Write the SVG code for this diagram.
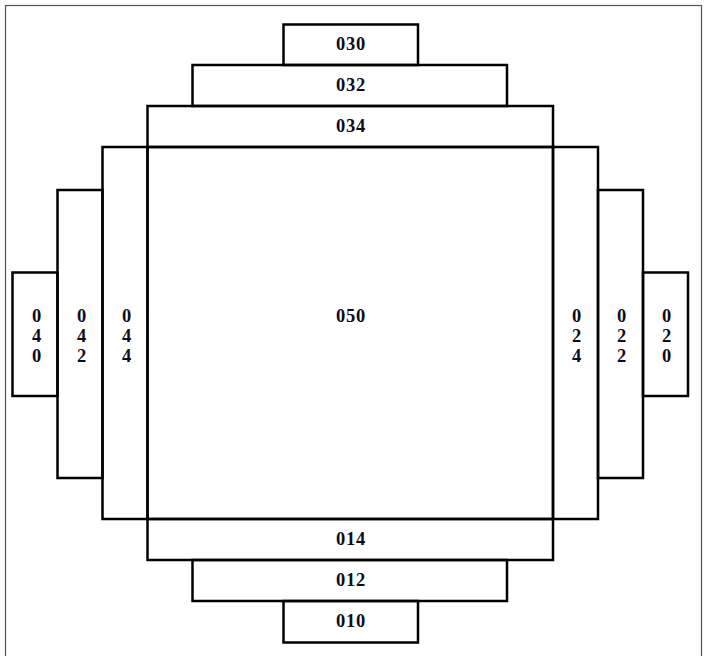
<svg xmlns="http://www.w3.org/2000/svg" width="705" height="656" viewBox="0 0 705 656">
  <style>
    .box { fill: none; stroke: #000; stroke-width: 2.5; }
    .lbl { font-family: "Liberation Serif", "Times New Roman", serif; font-weight: bold; font-size: 18.5px; fill: #0d0d1a; text-anchor: middle; letter-spacing: 0.8px; }
    .frame { fill: #fff; stroke: #555; stroke-width: 1.2; }
  </style>
  <rect class="frame" x="5.5" y="5.5" width="696" height="660"/>

  <!-- top strips -->
  <g id="n030"><rect class="box" x="283.5" y="24.5" width="134.5" height="40.5"/><text class="lbl" x="351" y="50">030</text></g>
  <g id="n032"><rect class="box" x="192.5" y="65" width="314.5" height="41"/><text class="lbl" x="351" y="91">032</text></g>
  <g id="n034"><rect class="box" x="147.5" y="106" width="405.5" height="41"/><text class="lbl" x="351" y="132">034</text></g>

  <!-- centre -->
  <g id="n050"><rect class="box" x="147.5" y="147" width="405.5" height="372"/><text class="lbl" x="351" y="321.5">050</text></g>

  <!-- left strips -->
  <g id="n044"><rect class="box" x="102.5" y="147" width="45" height="372"/>
    <text class="lbl" x="127"><tspan x="127" y="321.5">0</tspan><tspan x="127" y="341.5">4</tspan><tspan x="127" y="361.5">4</tspan></text></g>
  <g id="n042"><rect class="box" x="57.5" y="190" width="45" height="288"/>
    <text class="lbl" x="82"><tspan x="82" y="321.5">0</tspan><tspan x="82" y="341.5">4</tspan><tspan x="82" y="361.5">2</tspan></text></g>
  <g id="n040"><rect class="box" x="12.5" y="272.5" width="45" height="123.5"/>
    <text class="lbl" x="37"><tspan x="37" y="321.5">0</tspan><tspan x="37" y="341.5">4</tspan><tspan x="37" y="361.5">0</tspan></text></g>

  <!-- right strips -->
  <g id="n024"><rect class="box" x="553" y="147" width="45" height="372"/>
    <text class="lbl" x="577"><tspan x="577" y="321.5">0</tspan><tspan x="577" y="341.5">2</tspan><tspan x="577" y="361.5">4</tspan></text></g>
  <g id="n022"><rect class="box" x="598" y="190" width="45" height="288"/>
    <text class="lbl" x="622"><tspan x="622" y="321.5">0</tspan><tspan x="622" y="341.5">2</tspan><tspan x="622" y="361.5">2</tspan></text></g>
  <g id="n020"><rect class="box" x="643" y="272.5" width="45" height="123.5"/>
    <text class="lbl" x="667"><tspan x="667" y="321.5">0</tspan><tspan x="667" y="341.5">2</tspan><tspan x="667" y="361.5">0</tspan></text></g>

  <!-- bottom strips -->
  <g id="n014"><rect class="box" x="147.5" y="519" width="405.5" height="41"/><text class="lbl" x="351" y="545">014</text></g>
  <g id="n012"><rect class="box" x="192.5" y="560" width="314.5" height="41"/><text class="lbl" x="351" y="586">012</text></g>
  <g id="n010"><rect class="box" x="283.5" y="601" width="134.5" height="41.5"/><text class="lbl" x="351" y="627">010</text></g>

  <g id="connectors"/>
</svg>
